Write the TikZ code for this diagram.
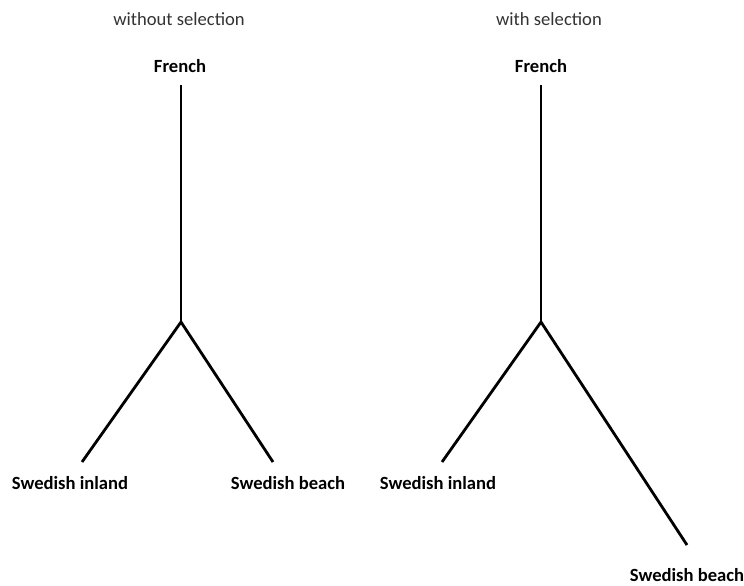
\documentclass[tikz,border=0pt]{standalone}
\usepackage{fontspec}
\setmainfont{Carlito}
\usepackage{tikz}

\tikzset{
    branch/.style={line width=2.8pt, black},
    taxon/.style={font=\fontsize{18.6}{22}\selectfont\bfseries, inner sep=0pt},
    heading/.style={font=\fontsize{18.6}{22}\selectfont, inner sep=0pt, text=black!80}
}

\begin{document}
\begin{tikzpicture}[x=1pt, y=-1pt]
        \useasboundingbox (0, 0) rectangle (744, 586);
        \node[heading] (ttlL) at (179, 19) {without selection};
        \node[heading] (ttlR) at (549, 19) {with selection};
        \node[taxon] (frL) at (180, 66) {French};
        \node[taxon] (frR) at (541, 66) {French};
        \coordinate (topL) at (181, 85);
        \coordinate (topR) at (541, 85);
        \coordinate (jL) at (181, 322);
        \coordinate (jR) at (541, 322);
        \coordinate (inL) at (82, 462);
        \coordinate (beL) at (273, 462);
        \coordinate (inR) at (442, 462);
        \coordinate (beR) at (687, 545);
        \node[taxon] (inlandL) at (70, 483) {Swedish inland};
        \node[taxon] (beachL) at (288, 483) {Swedish beach};
        \node[taxon] (inlandR) at (438, 483) {Swedish inland};
        \node[taxon] (beachR) at (687, 575) {Swedish beach};
        \draw[branch] (topL) -- (jL);
        \draw[branch] (inL) -- (jL) -- (beL);
        \draw[branch] (topR) -- (jR);
        \draw[branch] (inR) -- (jR) -- (beR);
    \end{tikzpicture}
\end{document}
